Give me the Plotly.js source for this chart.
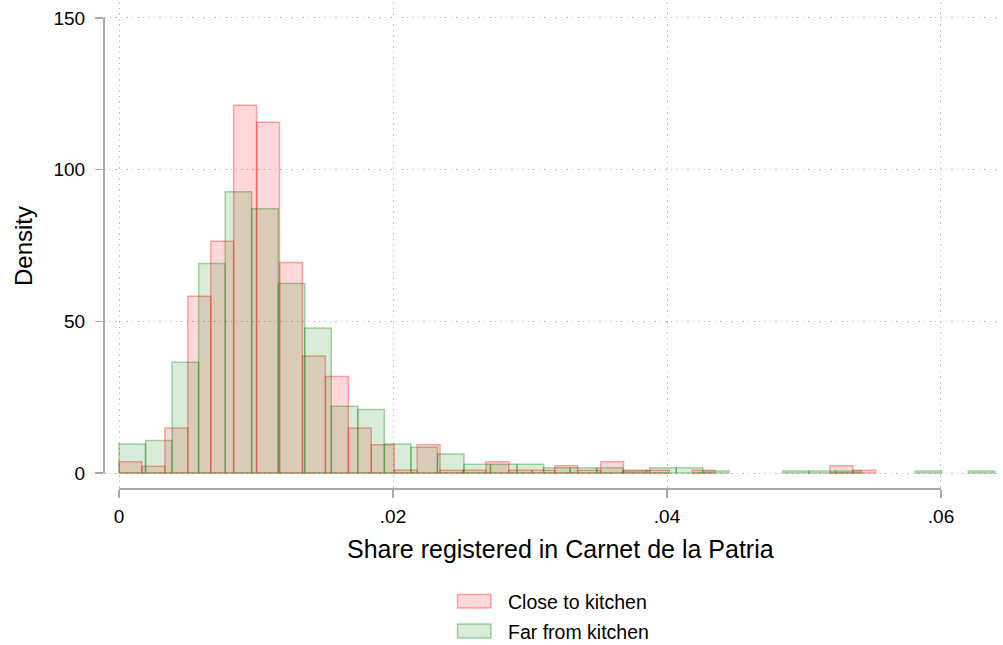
<!DOCTYPE html>
<html>
<head>
<meta charset="utf-8">
<script src="https://cdn.plot.ly/plotly-3.0.1.min.js"></script>
<style>html,body{margin:0;padding:0;background:#fff;}#chart{width:1003px;height:645px;}</style>
</head>
<body>
<div id="chart"></div>
<script>
// Histogram bins (start of first bin and bin width, in data units)
const closeBinStart = 0;
const closeBinWidth = 0.001674;
const farBinStart = 0;
const farBinWidth = 0.001937;

// Density per bin
const closeDensity = [3.7, 2.2, 14.8, 58.3, 76.4, 121.2, 115.6, 69.4, 38.6, 31.8,
  14.8, 9.3, 1.0, 9.3, 0.9, 0.9, 3.7, 0.9, 0.9, 2.4,
  0.9, 3.7, 0.9, 0.9, 0, 0.9, 0, 0, 0, 0,
  0, 2.4, 0.9];
const farDensity = [9.6, 10.7, 36.5, 69.1, 92.7, 87.1, 62.5, 47.8, 22.0, 20.9,
  9.6, 8.5, 6.3, 2.9, 2.9, 2.9, 1.7, 1.7, 1.7, 0.65,
  1.7, 1.7, 0.65, 0, 0, 0.65, 0.65, 0.65, 0, 0,
  0.65, 0, 0.65];

const seriesNames = ["Close to kitchen", "Far from kitchen"];
const xTickVals = [0, 0.02, 0.04, 0.06];
const xTickText = ["0", ".02", ".04", ".06"];
const yTickVals = [0, 50, 100, 150];
const yTickText = ["0", "50", "100", "150"];
const xTitle = "Share registered in Carnet de la Patria";
const yTitle = "Density";

const redFill = "rgba(255,0,0,0.15)", redLine = "rgba(255,0,0,0.33)";
const greenFill = "rgba(0,128,0,0.15)", greenLine = "rgba(0,128,0,0.33)";

function histTrace(start, width, dens, name, fill, line) {
  const x = [], y = [];
  dens.forEach((d, i) => { if (d > 0) { x.push(start + i * width); y.push(d); } });
  return {
    type: "bar", name: name, x: x, y: y, width: width, offset: 0,
    marker: { color: fill, line: { color: line, width: 1.5 } },
    showlegend: false, hoverinfo: "x+y"
  };
}

const traces = [
  histTrace(closeBinStart, closeBinWidth, closeDensity, seriesNames[0], redFill, redLine),
  histTrace(farBinStart, farBinWidth, farDensity, seriesNames[1], greenFill, greenLine)
];

const W = 1003, H = 645;
const mL = 104, mR = 3, mT = 2, mB = 156;
const pw = W - mL - mR, ph = H - mT - mB;
const px2x = p => (p - mL) / pw;
const py2y = p => (H - mB - p) / ph;

const font = "Liberation Sans, Arial, Helvetica, sans-serif";
const axisGray = "#a9a9a9";
const gridDash = "1.5px,4px";

const layout = {
  width: W, height: H,
  margin: { l: mL, r: mR, t: mT, b: mB, pad: 0 },
  paper_bgcolor: "#fff", plot_bgcolor: "#fff",
  barmode: "overlay", bargap: 0,
  font: { family: font, color: "#000", size: 19 },
  xaxis: {
    range: [-0.0010949, 0.064307],
    tickvals: xTickVals, ticktext: xTickText,
    ticks: "outside", ticklen: 8, tickwidth: 1.5, tickcolor: axisGray,
    ticklabelstandoff: 2,
    showline: false, zeroline: false,
    showgrid: true, gridcolor: "#bdbdbd", griddash: gridDash, gridwidth: 1,
    tickfont: { size: 19, family: font, color: "#000" }
  },
  yaxis: {
    range: [-5.275, 155.27],
    tickvals: yTickVals, ticktext: yTickText,
    ticks: "outside", ticklen: 8, tickwidth: 1.5, tickcolor: axisGray,
    ticklabelstandoff: 6,
    showline: false, zeroline: false,
    showgrid: true, gridcolor: "#bdbdbd", griddash: gridDash, gridwidth: 1,
    tickfont: { size: 19, family: font, color: "#000" }
  },
  shapes: [
    { type: "line", xref: "paper", yref: "y", x0: 0, x1: 0, y0: 0, y1: 150,
      line: { color: axisGray, width: 2 } },
    { type: "line", xref: "x", yref: "paper", x0: 0, x1: 0.06, y0: 0, y1: 0,
      line: { color: axisGray, width: 2 } },
    { type: "rect", xref: "paper", yref: "paper",
      x0: px2x(457.5), x1: px2x(491), y0: py2y(608), y1: py2y(594.5),
      fillcolor: redFill, line: { color: redLine, width: 1.5 } },
    { type: "rect", xref: "paper", yref: "paper",
      x0: px2x(457.5), x1: px2x(491), y0: py2y(638), y1: py2y(624),
      fillcolor: greenFill, line: { color: greenLine, width: 1.5 } }
  ],
  annotations: [
    { xref: "paper", yref: "paper", x: px2x(560), y: py2y(549), text: xTitle,
      showarrow: false, xanchor: "center", yanchor: "middle", borderpad: 0,
      font: { size: 25, family: font, color: "#000" } },
    { xref: "paper", yref: "paper", x: px2x(23), y: py2y(246), text: yTitle,
      showarrow: false, xanchor: "center", yanchor: "middle", textangle: -90, borderpad: 0,
      font: { size: 24, family: font, color: "#000" } },
    { xref: "paper", yref: "paper", x: px2x(507), y: py2y(602), text: seriesNames[0],
      showarrow: false, xanchor: "left", yanchor: "middle", borderpad: 0,
      font: { size: 19.5, family: font, color: "#000" } },
    { xref: "paper", yref: "paper", x: px2x(507), y: py2y(632), text: seriesNames[1],
      showarrow: false, xanchor: "left", yanchor: "middle", borderpad: 0,
      font: { size: 19.5, family: font, color: "#000" } }
  ]
};

Plotly.newPlot("chart", traces, layout, { displayModeBar: false, staticPlot: true });
</script>
</body>
</html>
